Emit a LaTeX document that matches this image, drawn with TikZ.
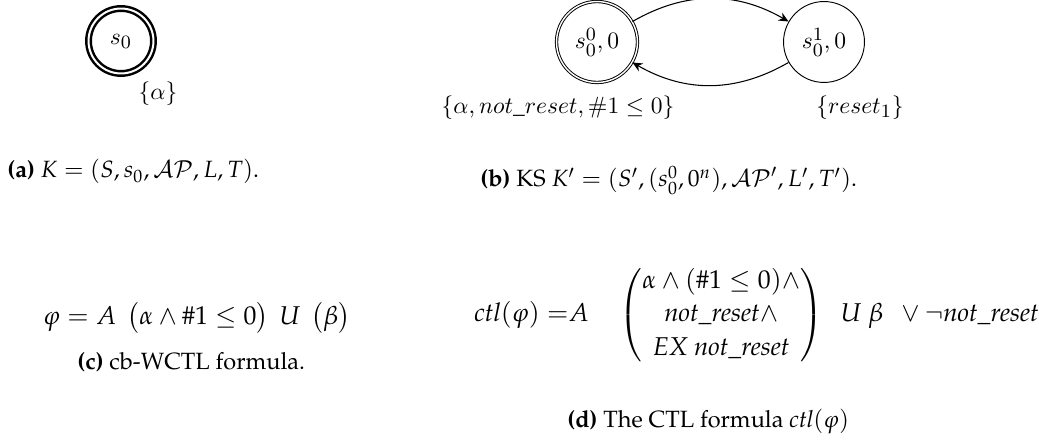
\documentclass[tikz,border=0pt]{standalone}
\usepackage[T1]{fontenc}
\usepackage{amsmath}
\usepackage{mathpazo}
\usetikzlibrary{arrows.meta}
\DeclareMathVersion{cmv}
\SetSymbolFont{operators}{cmv}{OT1}{cmr}{m}{n}
\SetSymbolFont{letters}{cmv}{OML}{cmm}{m}{it}
\SetSymbolFont{symbols}{cmv}{OMS}{cmsy}{m}{n}
\SetSymbolFont{largesymbols}{cmv}{OMX}{cmex}{m}{n}
\begin{document}
\begin{tikzpicture}[x=0.425pt,y=-0.425pt,
  cmfont/.style={font=\mathversion{cmv}},
  bigacc/.style={circle,draw,cmfont,line width=1.05pt,double,double distance=0.85pt,minimum size=27.6pt,inner sep=0pt},
  accstate/.style={circle,draw,cmfont,double,minimum size=34.4pt,inner sep=0pt},
  plainstate/.style={circle,draw,cmfont,minimum size=34.4pt,inner sep=0pt},
  lbl/.style={cmfont,inner sep=0pt},
  subcap/.style={inner sep=0pt,anchor=base west},
  formula/.style={inner sep=0pt,font=\fontsize{10.95}{14.3}\selectfont},
  trans/.style={-{Stealth[length=4.2pt,width=3.8pt]},line width=0.45pt}]
\useasboundingbox (0,0) rectangle (1039,443);
% (a)
\node[bigacc] (sa) at (121,41) {$s_0$};
\node[lbl] (la) at (158,94) {$\{\alpha\}$};
\node[subcap] (ca) at (7,178) {\textbf{(a)} $K = (S, s_0, \mathcal{AP}, L, T)$.};
% (b)
\node[accstate] (s00) at (597,42) {$s_0^0, 0$};
\node[plainstate] (s01) at (824,42) {$s_0^1, 0$};
\draw[trans] (s00) to[bend left=30] (s01);
\draw[trans] (s01) to[bend left=30] (s00);
\node[lbl] (l00) at (558,108) {$\{\alpha, not\_reset, \#1 \leq 0\}$};
\node[lbl] (l01) at (860,108) {$\{reset_1\}$};
\node[subcap] (cb) at (480,187) {\textbf{(b)} KS $K' = (S', (s_0^0, 0^n), \mathcal{AP}', L', T')$.};
% (c)
\node[formula] (fc) at (197,318) {$\varphi = A\hspace{0.4em}\bigl(\alpha \wedge \#1 \leq 0\bigr)\hspace{0.4em}U\hspace{0.4em}\bigl(\beta\bigr)$};
\node[subcap] (cc) at (77,370) {\textbf{(c)} cb-WCTL formula.};
% (d)
\node[formula,anchor=west] (fd) at (474,315) {$\mathit{ctl}(\varphi)\;{=}A\quad\begin{pmatrix}\alpha\wedge(\#1\leq 0)\wedge\\ \mathit{not\_reset}\wedge\\ \mathit{EX}\ \mathit{not\_reset}\end{pmatrix}\ \ U\ \beta\ \ \vee\neg\mathit{not\_reset}$};
\node[subcap] (cd) at (567,428) {\textbf{(d)} The CTL formula $\mathit{ctl}(\varphi)$};
\end{tikzpicture}
\end{document}
